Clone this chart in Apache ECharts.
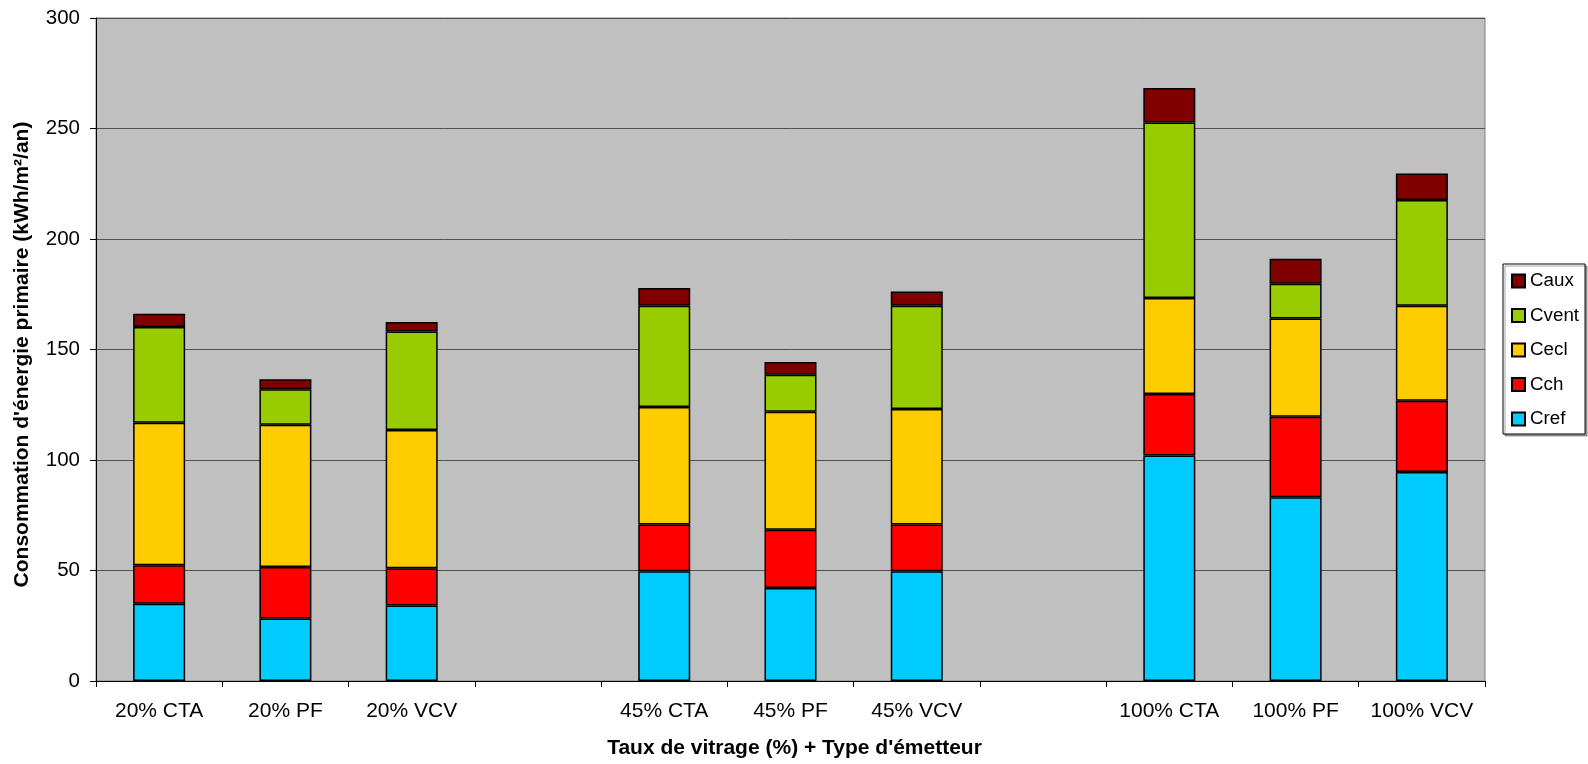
<!DOCTYPE html>
<html>
<head>
<meta charset="utf-8">
<script src="https://cdn.jsdelivr.net/npm/echarts@6/dist/echarts.min.js"></script>
<style>
  html, body { margin: 0; padding: 0; background: #fff; }
  #chart { width: 1588px; height: 764px; }
</style>
</head>
<body>
<div id="chart"></div>
<script>
// Glazing ratio + emitter type (empty slots separate the three glazing groups)
const categories = ['20% CTA', '20% PF', '20% VCV', '', '45% CTA', '45% PF', '45% VCV', '', '100% CTA', '100% PF', '100% VCV'];

// Primary energy consumption components, kWh/m²/an
const cref  = [35.0, 28.3, 34.2, null, 49.7, 42.1, 49.7, null, 102.0, 83.2, 94.6];
const cch   = [17.4, 23.3, 16.8, null, 21.1, 26.3, 21.1, null, 27.9, 36.4, 32.2];
const cecl  = [64.4, 64.4, 62.6, null, 53.2, 53.4, 52.3, null, 43.4, 44.4, 43.0];
const cvent = [43.4, 16.0, 44.5, null, 45.8, 16.8, 46.7, null, 79.4, 15.7, 47.9];
const caux  = [6.0, 4.5, 4.4, null, 8.0, 5.8, 6.5, null, 15.6, 11.4, 11.9];

const yTicks = { min: 0, max: 300, interval: 50 };

const FONT = '"Liberation Sans", Arial, sans-serif';

const seriesDefs = [
  { name: 'Cref',  data: cref,  color: '#00CCFF' },
  { name: 'Cch',   data: cch,   color: '#FF0000' },
  { name: 'Cecl',  data: cecl,  color: '#FFCC00' },
  { name: 'Cvent', data: cvent, color: '#99CC00' },
  { name: 'Caux',  data: caux,  color: '#800000' }
];

const chart = echarts.init(document.getElementById('chart'), null, { renderer: 'canvas' });

chart.setOption({
  animation: false,
  backgroundColor: '#ffffff',
  textStyle: { fontFamily: FONT },
  grid: {
    left: 96, right: 103, top: 18, bottom: 81,
    show: true,
    backgroundColor: '#C0C0C0',
    borderColor: '#808080',
    borderWidth: 1
  },
  legend: {
    orient: 'vertical',
    left: 1503, top: 264,
    data: ['Caux', 'Cvent', 'Cecl', 'Cch', 'Cref'],
    icon: 'rect',
    itemWidth: 13, itemHeight: 13,
    itemGap: 14.5,
    padding: [7, 6, 5, 8],
    borderColor: '#000', borderWidth: 1,
    backgroundColor: '#fff',
    shadowColor: 'rgba(0,0,0,0.35)', shadowOffsetX: 2, shadowOffsetY: 2, shadowBlur: 0,
    textStyle: { fontFamily: FONT, fontSize: 18.8, lineHeight: 20, color: '#000' }
  },
  xAxis: {
    type: 'category',
    data: categories,
    name: "Taux de vitrage (%) + Type d'émetteur",
    nameLocation: 'middle',
    nameGap: 57,
    nameTextStyle: { fontFamily: FONT, fontSize: 21, fontWeight: 'bold', color: '#000', padding: [0, 0, 0, 8] },
    axisLine: { lineStyle: { color: '#000', width: 1 } },
    axisTick: { show: true, interval: 0, alignWithLabel: false, length: 6, lineStyle: { color: '#000' } },
    axisLabel: { interval: 0, fontFamily: FONT, fontSize: 21, color: '#000', margin: 20 },
    splitLine: { show: false }
  },
  yAxis: {
    type: 'value',
    min: yTicks.min, max: yTicks.max, interval: yTicks.interval,
    name: "Consommation d'énergie primaire (kWh/m²/an)",
    nameLocation: 'middle',
    nameGap: 63,
    nameTextStyle: { fontFamily: FONT, fontSize: 21, fontWeight: 'bold', color: '#000', padding: [0, 10, 0, 0] },
    axisLine: { show: true, lineStyle: { color: '#000', width: 1 } },
    axisTick: { show: true, length: 6, lineStyle: { color: '#000' } },
    axisLabel: { fontFamily: FONT, fontSize: 20.5, color: '#000', margin: 16 },
    splitLine: { show: true, lineStyle: { color: '#505050', width: 1 } }
  },
  series: seriesDefs.map(s => ({
    name: s.name,
    type: 'bar',
    stack: 'total',
    data: s.data,
    barWidth: 52,
    itemStyle: { color: s.color, borderColor: '#000', borderWidth: 1.5 }
  }))
});
</script>
</body>
</html>
